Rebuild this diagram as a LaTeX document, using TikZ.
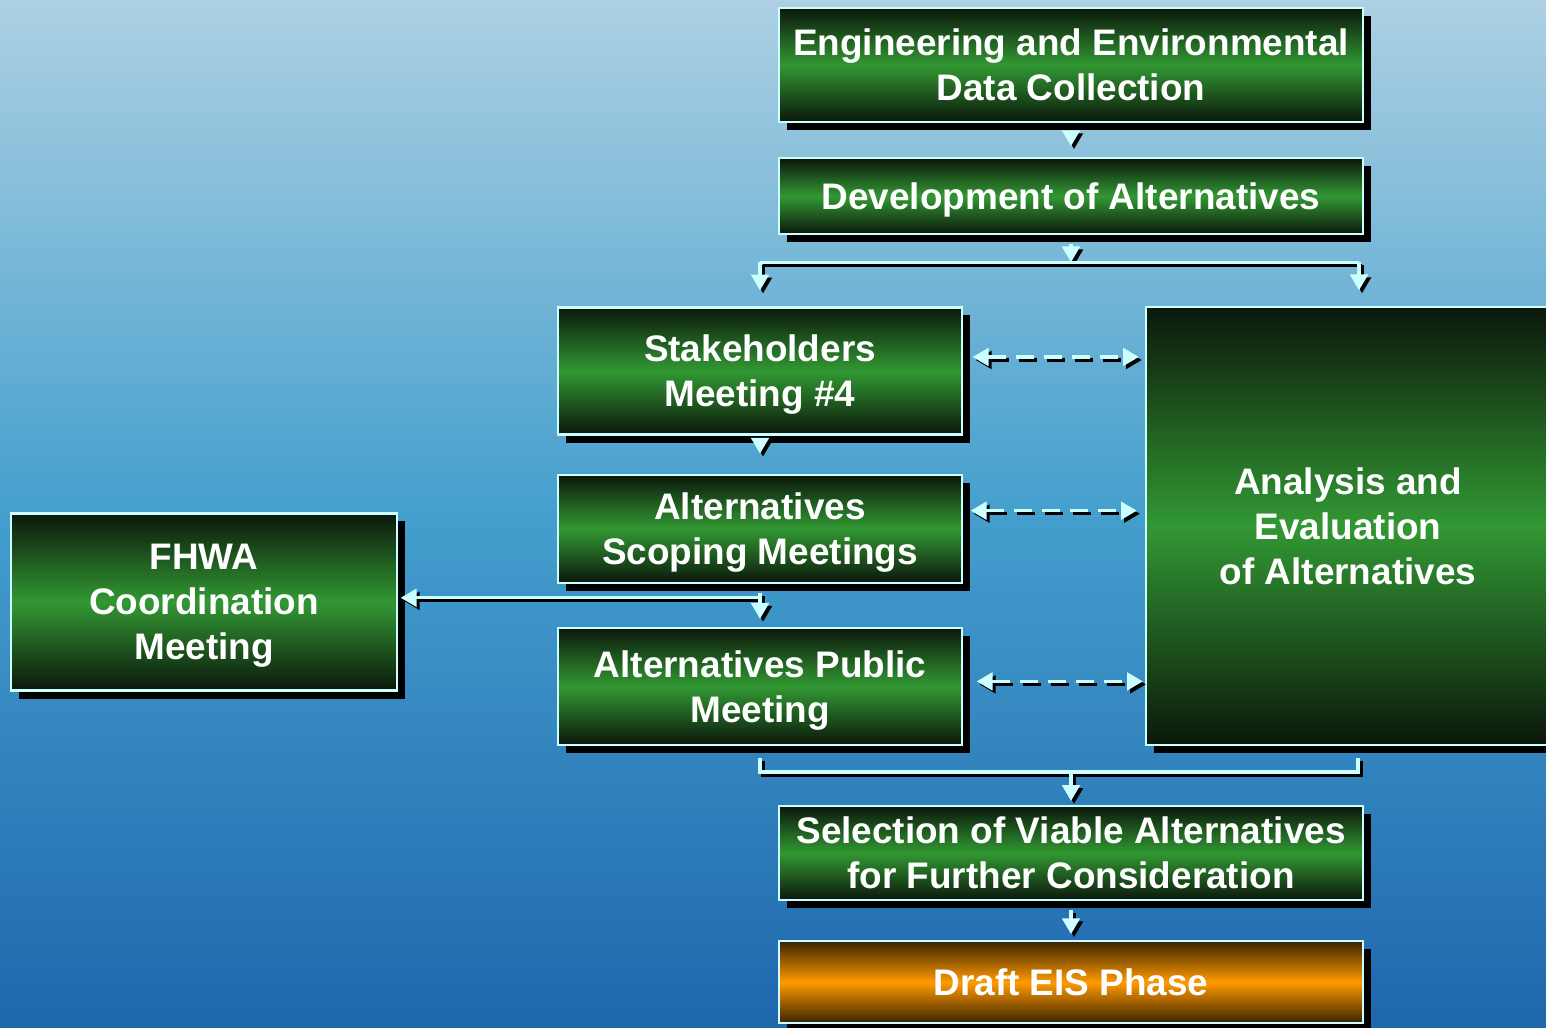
\documentclass[tikz,border=0pt]{standalone}
\usepackage{fontspec}
\setsansfont{Liberation Sans}
\usetikzlibrary{positioning,calc,shadows,arrows.meta}

\definecolor{bgtop}{HTML}{ADD0E3}
\definecolor{bgmid}{HTML}{449FCD}
\definecolor{bgbot}{HTML}{1F66AD}
\definecolor{lcyan}{HTML}{CCFFFF}
\definecolor{gdark}{HTML}{0B170B}
\definecolor{gmid}{HTML}{329833}
\definecolor{odark}{HTML}{3A2200}
\definecolor{omid}{HTML}{FF9A00}

\begin{document}
\begin{tikzpicture}[x=0.01cm, y=-0.01cm, >={Triangle[width=5pt,length=4.5pt]}]
    \tikzset{
        stepbox/.style={draw=lcyan, line width=0.6pt, rectangle, inner sep=0pt, align=center,
            text=white, font=\sffamily\bfseries\fontsize{10.5}{12.8}\selectfont,
            top color=gdark, bottom color=gdark, middle color=gmid,
            drop shadow={shadow xshift=0.08cm, shadow yshift=-0.08cm, fill=black, opacity=1}},
        lowtext/.style={text depth=0pt},
        wide/.style={minimum width=5.84cm},
        narrow/.style={minimum width=4.03cm},
        phase/.style={top color=odark, bottom color=odark, middle color=omid},
        line/.style={line width=0.9pt},
        conn/.style={line, ->},
        dashconn/.style={line, <->, dash pattern=on 0.18cm off 0.1cm}
    }
    \useasboundingbox (0,0) rectangle (1546,1028);
    \clip (0,0) rectangle (1546,1028);
    \shade [top color=bgtop, bottom color=bgbot, middle color=bgmid] (0,0) rectangle (1546,1028);

    % process chain
    \node [stepbox, wide, minimum height=1.14cm] (eng) at (1071,65) {Engineering and Environmental\\Data Collection};
    \node [stepbox, lowtext, wide, minimum height=0.76cm, below=0.34cm of eng] (dev) {Development of Alternatives};
    \node [stepbox, lowtext, narrow, minimum height=1.27cm] (stake) at (760,371) {Stakeholders\\Meeting \#4};
    \node [stepbox, lowtext, narrow, minimum height=1.08cm, below=0.38cm of stake] (scope) {Alternatives\\Scoping Meetings};
    \node [stepbox, lowtext, narrow, minimum height=1.17cm, below=0.43cm of scope] (public) {Alternatives Public\\Meeting};
    \node [stepbox, minimum width=4.04cm, minimum height=4.37cm] (anal) at (1348,526) {Analysis and\\Evaluation\\of Alternatives};
    \node [stepbox, lowtext, minimum width=3.85cm, minimum height=1.77cm] (fhwa) at (204,602) {FHWA\\Coordination\\Meeting};
    \node [stepbox, wide, minimum height=0.94cm] (sel) at (1071,853) {Selection of Viable Alternatives\\for Further Consideration};
    \node [stepbox, phase, wide, minimum height=0.82cm, below=0.39cm of sel] (draft) {Draft EIS Phase};

    \coordinate (split) at ($(dev.south)+(0,27)$);
    \coordinate (barL) at (split -| stake.north);
    \coordinate (barR) at ($(split)+(288,0)$);
    \coordinate (fork) at ($(scope.south)+(0,14)$);
    \coordinate (brL) at ($(public.south)+(0,12)$);
    \coordinate (merge) at ($(public.south)+(0,26)$);
    \coordinate (brR) at ($(brL)+(598,0)$);
    \coordinate (d1) at ([yshift=0.14cm]stake.east);
    \coordinate (d2) at ([yshift=0.18cm]scope.east);
    \coordinate (d3) at ([yshift=0.05cm]public.east);

    % connectors: black shadow first, then the light line
    \foreach \ink/\sh in {black/0.03cm, lcyan/0cm} {
        \begin{scope}[color=\ink, transform canvas={xshift=\sh, yshift=-\sh}]
            \draw [conn, shorten <=0.09cm, shorten >=0.11cm] (eng) -- (dev);
            \draw [conn, shorten <=0.09cm] (dev) -- (split);
            \draw [line] (barL) -- (barR);
            \draw [conn, shorten >=0.16cm] (barL) -- (stake);
            \draw [conn, shorten >=0.16cm] (barR) -- (barR |- anal.north);
            \draw [conn, shorten <=0.09cm, shorten >=0.2cm] (stake) -- (scope);
            \draw [line, shorten <=0.09cm] (scope) -- (fork);
            \draw [conn, shorten >=0.08cm] (fork) -- (public);
            \draw [conn, shorten >=0.03cm] (fork) -- (fork -| fhwa.east);
            \draw [line] (brL) -- (merge) -| (brR);
            \draw [conn, shorten >=0.04cm] (merge -| sel.north) -- (sel);
            \draw [conn, shorten <=0.09cm, shorten >=0.06cm] (sel) -- (draft);
            % two-way links to the analysis
            \draw [dashconn, shorten <=0.1cm, shorten >=0.06cm] (d1) -- (d1 -| anal.west);
            \draw [dashconn, shorten <=0.08cm, shorten >=0.08cm] (d2) -- (d2 -| anal.west);
            \draw [dashconn, shorten <=0.14cm, shorten >=0.02cm] (d3) -- (d3 -| anal.west);
        \end{scope}
    }
\end{tikzpicture}
\end{document}
